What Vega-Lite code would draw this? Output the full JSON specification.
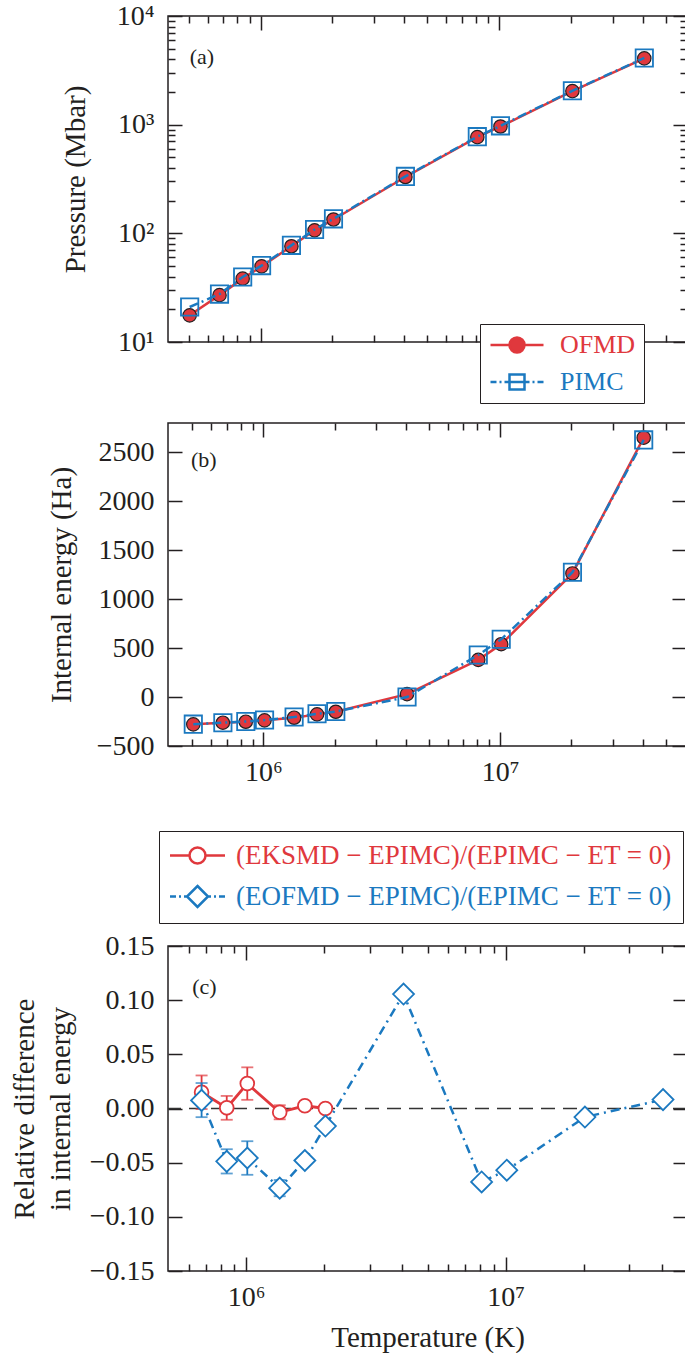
{
  "$schema": "https://vega.github.io/schema/vega-lite/v6.json",
  "background": "white",
  "padding": {"left": 9, "top": 1, "right": 0, "bottom": 0},
  "datasets": {
    "ab": [
      {"T": 505213, "method": "OFMD", "P": 17.6, "E": -279},
      {"T": 505213, "method": "PIMC", "P": 21.0, "E": -277},
      {"T": 673617, "method": "OFMD", "P": 27.0, "E": -262},
      {"T": 673617, "method": "PIMC", "P": 27.6, "E": -262.3},
      {"T": 842022, "method": "OFMD", "P": 38.3, "E": -252},
      {"T": 842022, "method": "PIMC", "P": 39.6, "E": -249.6},
      {"T": 1010426, "method": "OFMD", "P": 49.7, "E": -238},
      {"T": 1010426, "method": "PIMC", "P": 50.5, "E": -235},
      {"T": 1347234, "method": "OFMD", "P": 76, "E": -211},
      {"T": 1347234, "method": "PIMC", "P": 77.5, "E": -204},
      {"T": 1684043, "method": "OFMD", "P": 106.6, "E": -177},
      {"T": 1684043, "method": "PIMC", "P": 108.5, "E": -171},
      {"T": 2020851, "method": "OFMD", "P": 134, "E": -150},
      {"T": 2020851, "method": "PIMC", "P": 136, "E": -147.6},
      {"T": 4041702, "method": "OFMD", "P": 330, "E": 30},
      {"T": 4041702, "method": "PIMC", "P": 334, "E": 0},
      {"T": 8083404, "method": "OFMD", "P": 768, "E": 380},
      {"T": 8083404, "method": "PIMC", "P": 776, "E": 430},
      {"T": 10104255, "method": "OFMD", "P": 962, "E": 540},
      {"T": 10104255, "method": "PIMC", "P": 975, "E": 590},
      {"T": 20208510, "method": "OFMD", "P": 2036, "E": 1263},
      {"T": 20208510, "method": "PIMC", "P": 2050, "E": 1275},
      {"T": 40417019, "method": "OFMD", "P": 4075, "E": 2650},
      {"T": 40417019, "method": "PIMC", "P": 4110, "E": 2627}
    ],
    "rel": [
      {"T": 673617, "method": "KSMD", "rel": 0.0150, "lo": -0.0005, "hi": 0.0305},
      {"T": 842022, "method": "KSMD", "rel": 0.0006, "lo": -0.0104, "hi": 0.0116},
      {"T": 1010426, "method": "KSMD", "rel": 0.0230, "lo": 0.0080, "hi": 0.0380},
      {"T": 1347234, "method": "KSMD", "rel": -0.0035, "lo": -0.0100, "hi": 0.0030},
      {"T": 1684043, "method": "KSMD", "rel": 0.0025, "lo": -0.0005, "hi": 0.0055},
      {"T": 2020851, "method": "KSMD", "rel": 0.0000, "lo": -0.0030, "hi": 0.0030},
      {"T": 673617, "method": "OFMD", "rel": 0.0075, "lo": -0.0080, "hi": 0.0235},
      {"T": 842022, "method": "OFMD", "rel": -0.0488, "lo": -0.0600, "hi": -0.0376},
      {"T": 1010426, "method": "OFMD", "rel": -0.0457, "lo": -0.0612, "hi": -0.0302},
      {"T": 1347234, "method": "OFMD", "rel": -0.0735, "lo": -0.0810, "hi": -0.0660},
      {"T": 1684043, "method": "OFMD", "rel": -0.0480, "lo": -0.0515, "hi": -0.0445},
      {"T": 2020851, "method": "OFMD", "rel": -0.0162, "lo": -0.0190, "hi": -0.0134},
      {"T": 4041702, "method": "OFMD", "rel": 0.1056, "lo": 0.1036, "hi": 0.1076},
      {"T": 8083404, "method": "OFMD", "rel": -0.0678, "lo": -0.0698, "hi": -0.0658},
      {"T": 10104255, "method": "OFMD", "rel": -0.0569, "lo": -0.0589, "hi": -0.0549},
      {"T": 20208510, "method": "OFMD", "rel": -0.0079, "lo": -0.0099, "hi": -0.0059},
      {"T": 40417019, "method": "OFMD", "rel": 0.0082, "lo": 0.0062, "hi": 0.0102}
    ]
  },
  "spacing": 42,
  "resolve": {"scale": {"shape": "independent", "fill": "independent", "stroke": "independent"}},
  "vconcat": [
    {
      "spacing": 81,
      "bounds": "flush",
      "vconcat": [
        {
          "width": 519,
          "height": 326,
          "data": {"name": "ab"},
          "resolve": {"axis": {"x": "independent", "y": "independent"}},
          "layer": [
            {
              "transform": [{"filter": "datum.method == 'OFMD'"}],
              "mark": {"type": "line", "color": "#e0383d", "strokeWidth": 2.5},
              "encoding": {
                "x": {"field": "T", "type": "quantitative", "scale": {"type": "log", "domain": [410000, 61000000], "nice": false},
                  "axis": {"orient": "bottom", "values": [1000000, 10000000], "tickSize": -14, "labels": false, "title": null}},
                "y": {"field": "P", "type": "quantitative", "scale": {"type": "log", "domain": [10, 10000], "nice": false},
                  "axis": {"orient": "left", "values": [10, 100, 1000, 10000], "tickSize": -14, "labelPadding": 28,
                    "labelExpr": "'10' + ['⁰','¹','²','³','⁴','⁵','⁶','⁷','⁸'][round(log(datum.value)/LN10)]",
                    "title": "Pressure (Mbar)", "titlePadding": 26}}
              }
            },
            {
              "transform": [{"filter": "datum.method == 'OFMD'"}],
              "mark": {"type": "point", "shape": "circle", "filled": true, "fill": "#e0383d", "stroke": "#231f20", "strokeWidth": 1.2, "size": 180, "opacity": 1},
              "encoding": {
                "x": {"field": "T", "type": "quantitative",
                  "axis": {"orient": "bottom", "values": [500000, 600000, 700000, 800000, 900000, 2000000, 3000000, 4000000, 5000000, 6000000, 7000000, 8000000, 9000000, 20000000, 30000000, 40000000, 50000000], "tickSize": -7, "labels": false, "title": null}},
                "y": {"field": "P", "type": "quantitative",
                  "axis": {"orient": "left", "values": [20, 30, 40, 50, 60, 70, 80, 90, 200, 300, 400, 500, 600, 700, 800, 900, 2000, 3000, 4000, 5000, 6000, 7000, 8000, 9000], "tickSize": -7, "labels": false, "title": null}}
              }
            },
            {
              "transform": [{"filter": "datum.method == 'PIMC'"}],
              "mark": {"type": "line", "color": "#1b79c0", "strokeWidth": 2.5, "strokeDash": [9, 4, 2, 4]},
              "encoding": {
                "x": {"field": "T", "type": "quantitative",
                  "axis": {"orient": "top", "values": [1000000, 10000000], "tickSize": -14, "labels": false, "title": null}},
                "y": {"field": "P", "type": "quantitative",
                  "axis": {"orient": "right", "values": [10, 100, 1000, 10000], "tickSize": -14, "labels": false, "title": null}}
              }
            },
            {
              "transform": [{"filter": "datum.method == 'PIMC'"}],
              "mark": {"type": "point", "shape": "square", "filled": false, "color": "#1b79c0", "strokeWidth": 1.8, "size": 300, "opacity": 1},
              "encoding": {
                "x": {"field": "T", "type": "quantitative",
                  "axis": {"orient": "top", "values": [500000, 600000, 700000, 800000, 900000, 2000000, 3000000, 4000000, 5000000, 6000000, 7000000, 8000000, 9000000, 20000000, 30000000, 40000000, 50000000], "tickSize": -7, "labels": false, "title": null}},
                "y": {"field": "P", "type": "quantitative",
                  "axis": {"orient": "right", "values": [20, 30, 40, 50, 60, 70, 80, 90, 200, 300, 400, 500, 600, 700, 800, 900, 2000, 3000, 4000, 5000, 6000, 7000, 8000, 9000], "tickSize": -7, "labels": false, "title": null}}
              }
            },
            {
              "data": {"values": []},
              "mark": {"type": "point", "filled": true, "opacity": 1},
              "encoding": {
                "x": {"field": "T", "type": "quantitative", "axis": null},
                "y": {"field": "P", "type": "quantitative", "axis": null},
                "shape": {"field": "series", "type": "nominal",
                  "scale": {"domain": ["OFMD", "PIMC"], "range": ["M-2.65,0H-0.75M0.75,0H2.65M0.75,0A0.75,0.75,0,1,1,-0.75,0A0.75,0.75,0,1,1,0.75,0", "M-2.65,0H-2.05M-1.75,0H-1.55M-1.25,0H-0.75M-0.75,-0.75H0.75V0.75H-0.75ZM-0.75,0H0.75M0.75,0H1.25M1.55,0H1.75M2.05,0H2.65"]},
                  "legend": {"title": null, "orient": "none", "legendX": 312, "legendY": 308, "strokeColor": "#231f20", "fillColor": "white", "padding": 8,
                    "symbolSize": 400, "symbolStrokeWidth": 2.5, "symbolOffset": 16, "labelOffset": 30, "rowPadding": 11,
                    "labelFont": "Liberation Serif", "labelFontSize": 26,
                    "labelColor": {"expr": "datum.value == 'OFMD' ? '#e0383d' : '#1b79c0'"}}},
                "fill": {"field": "series", "type": "nominal", "scale": {"domain": ["OFMD", "PIMC"], "range": ["#e0383d", "transparent"]}},
                "stroke": {"field": "series", "type": "nominal", "scale": {"domain": ["OFMD", "PIMC"], "range": ["#e0383d", "#1b79c0"]}}
              }
            },
            {
              "data": {"values": [{"label": "(a)"}]},
              "mark": {"type": "text", "align": "left", "baseline": "middle", "font": "Liberation Serif", "fontSize": 22, "color": "#231f20"},
              "encoding": {
                "x": {"datum": 505213, "type": "quantitative", "axis": null},
                "y": {"datum": 4184, "type": "quantitative", "axis": null},
                "text": {"field": "label"}
              }
            }
          ]
        },
        {
          "width": 518,
          "height": 323,
          "data": {"name": "ab"},
          "resolve": {"axis": {"x": "independent", "y": "independent"}},
          "layer": [
            {
              "transform": [{"filter": "datum.method == 'OFMD'"}],
              "mark": {"type": "line", "color": "#e0383d", "strokeWidth": 2.5},
              "encoding": {
                "x": {"field": "T", "type": "quantitative", "scale": {"type": "log", "domain": [395000, 61000000], "nice": false},
                  "axis": {"orient": "bottom", "values": [1000000, 10000000], "tickSize": -14, "labelPadding": 26,
                    "labelExpr": "'10' + ['⁰','¹','²','³','⁴','⁵','⁶','⁷','⁸'][round(log(datum.value)/LN10)]", "title": null}},
                "y": {"field": "E", "type": "quantitative", "scale": {"domain": [-500, 2800], "nice": false, "zero": false},
                  "axis": {"orient": "left", "values": [-500, 0, 500, 1000, 1500, 2000, 2500], "format": "d", "tickSize": -14, "labelPadding": 28,
                    "title": "Internal energy (Ha)", "titlePadding": 20}}
              }
            },
            {
              "transform": [{"filter": "datum.method == 'OFMD'"}],
              "mark": {"type": "point", "shape": "circle", "filled": true, "fill": "#e0383d", "stroke": "#231f20", "strokeWidth": 1.2, "size": 180, "opacity": 1},
              "encoding": {
                "x": {"field": "T", "type": "quantitative",
                  "axis": {"orient": "bottom", "values": [500000, 600000, 700000, 800000, 900000, 2000000, 3000000, 4000000, 5000000, 6000000, 7000000, 8000000, 9000000, 20000000, 30000000, 40000000, 50000000], "tickSize": -7, "labels": false, "title": null}},
                "y": {"field": "E", "type": "quantitative", "axis": null}
              }
            },
            {
              "transform": [{"filter": "datum.method == 'PIMC'"}],
              "mark": {"type": "line", "color": "#1b79c0", "strokeWidth": 2.5, "strokeDash": [9, 4, 2, 4]},
              "encoding": {
                "x": {"field": "T", "type": "quantitative",
                  "axis": {"orient": "top", "values": [1000000, 10000000], "tickSize": -14, "labels": false, "title": null}},
                "y": {"field": "E", "type": "quantitative",
                  "axis": {"orient": "right", "values": [-500, 0, 500, 1000, 1500, 2000, 2500], "tickSize": -14, "labels": false, "title": null}}
              }
            },
            {
              "transform": [{"filter": "datum.method == 'PIMC'"}],
              "mark": {"type": "point", "shape": "square", "filled": false, "color": "#1b79c0", "strokeWidth": 1.8, "size": 300, "opacity": 1},
              "encoding": {
                "x": {"field": "T", "type": "quantitative",
                  "axis": {"orient": "top", "values": [500000, 600000, 700000, 800000, 900000, 2000000, 3000000, 4000000, 5000000, 6000000, 7000000, 8000000, 9000000, 20000000, 30000000, 40000000, 50000000], "tickSize": -7, "labels": false, "title": null}},
                "y": {"field": "E", "type": "quantitative", "axis": null}
              }
            },
            {
              "data": {"values": [{"label": "(b)"}]},
              "mark": {"type": "text", "align": "left", "baseline": "middle", "font": "Liberation Serif", "fontSize": 22, "color": "#231f20"},
              "encoding": {
                "x": {"datum": 494000, "type": "quantitative", "axis": null},
                "y": {"datum": 2420, "type": "quantitative", "axis": null},
                "text": {"field": "label"}
              }
            }
          ]
        }
      ]
    },
    {
      "width": 519,
      "height": 325,
      "data": {"name": "rel"},
      "resolve": {"axis": {"x": "independent", "y": "independent"}},
      "layer": [
        {
          "data": {"values": [{"level": 0}]},
          "mark": {"type": "rule", "color": "#333333", "strokeWidth": 1.5, "strokeDash": [14, 8]},
          "encoding": {"y": {"field": "level", "type": "quantitative", "scale": {"domain": [-0.15, 0.15], "nice": false, "zero": false}, "axis": null}}
        },
        {
          "transform": [{"filter": "datum.method == 'KSMD'"}],
          "mark": {"type": "errorbar", "ticks": {"size": 12}, "thickness": 1.8, "color": "#e0383d"},
          "encoding": {
            "x": {"field": "T", "type": "quantitative", "scale": {"type": "log", "domain": [500000, 50000000], "nice": false}, "axis": null},
            "y": {"field": "lo", "type": "quantitative", "axis": null},
            "y2": {"field": "hi"}
          }
        },
        {
          "transform": [{"filter": "datum.method == 'KSMD'"}],
          "mark": {"type": "line", "color": "#e0383d", "strokeWidth": 2.8},
          "encoding": {
            "x": {"field": "T", "type": "quantitative",
              "axis": {"orient": "bottom", "values": [1000000, 10000000], "tickSize": -14, "labelPadding": 26,
                "labelExpr": "'10' + ['⁰','¹','²','³','⁴','⁵','⁶','⁷','⁸'][round(log(datum.value)/LN10)]",
                "title": "Temperature (K)", "titlePadding": 12}},
            "y": {"field": "rel", "type": "quantitative",
              "axis": {"orient": "left", "values": [-0.15, -0.1, -0.05, 0, 0.05, 0.1, 0.15], "format": ".2f", "tickSize": -14, "labelPadding": 28,
                "title": ["Relative difference", "in internal energy"], "titlePadding": 14, "titleLineHeight": 36}}
          }
        },
        {
          "transform": [{"filter": "datum.method == 'KSMD'"}],
          "mark": {"type": "point", "shape": "circle", "filled": false, "fill": "white", "color": "#e0383d", "strokeWidth": 1.8, "size": 190, "opacity": 1},
          "encoding": {
            "x": {"field": "T", "type": "quantitative",
              "axis": {"orient": "bottom", "values": [600000, 700000, 800000, 900000, 2000000, 3000000, 4000000, 5000000, 6000000, 7000000, 8000000, 9000000, 20000000, 30000000, 40000000], "tickSize": -7, "labels": false, "title": null}},
            "y": {"field": "rel", "type": "quantitative",
              "axis": {"orient": "right", "values": [-0.15, -0.1, -0.05, 0, 0.05, 0.1, 0.15], "tickSize": -14, "labels": false, "title": null}}
          }
        },
        {
          "transform": [{"filter": "datum.method == 'OFMD'"}],
          "mark": {"type": "errorbar", "ticks": {"size": 12}, "thickness": 1.8, "color": "#1b79c0"},
          "encoding": {
            "x": {"field": "T", "type": "quantitative", "axis": null},
            "y": {"field": "lo", "type": "quantitative", "axis": null},
            "y2": {"field": "hi"}
          }
        },
        {
          "transform": [{"filter": "datum.method == 'OFMD'"}],
          "mark": {"type": "line", "color": "#1b79c0", "strokeWidth": 2.5, "strokeDash": [9, 5, 2, 5]},
          "encoding": {
            "x": {"field": "T", "type": "quantitative",
              "axis": {"orient": "top", "values": [1000000, 10000000], "tickSize": -14, "labels": false, "title": null}},
            "y": {"field": "rel", "type": "quantitative", "axis": null}
          }
        },
        {
          "transform": [{"filter": "datum.method == 'OFMD'"}],
          "mark": {"type": "point", "shape": "diamond", "filled": false, "fill": "white", "color": "#1b79c0", "strokeWidth": 1.8, "size": 440, "opacity": 1},
          "encoding": {
            "x": {"field": "T", "type": "quantitative",
              "axis": {"orient": "top", "values": [600000, 700000, 800000, 900000, 2000000, 3000000, 4000000, 5000000, 6000000, 7000000, 8000000, 9000000, 20000000, 30000000, 40000000], "tickSize": -7, "labels": false, "title": null}},
            "y": {"field": "rel", "type": "quantitative", "axis": null}
          }
        },
        {
          "data": {"values": []},
          "mark": {"type": "point", "filled": true, "opacity": 1},
          "encoding": {
            "x": {"field": "T", "type": "quantitative", "axis": null},
            "y": {"field": "rel", "type": "quantitative", "axis": null},
            "shape": {"field": "series", "type": "nominal",
              "scale": {"domain": ["KSMD", "OFMD"], "range": ["M-2.75,0H-0.8M0.8,0H2.75M0.8,0A0.8,0.8,0,1,1,-0.8,0A0.8,0.8,0,1,1,0.8,0", "M-2.75,0H-2.15M-1.85,0H-1.65M-1.35,0H-1.05M0,-1.05L1.05,0L0,1.05L-1.05,0ZM1.05,0H1.35M1.65,0H1.85M2.15,0H2.75"]},
              "legend": {"title": null, "orient": "none", "legendX": -9, "legendY": -115, "strokeColor": "#231f20", "fillColor": "white", "padding": 11,
                "symbolSize": 400, "symbolStrokeWidth": 2.5, "symbolOffset": 14, "labelOffset": 25, "rowPadding": 12, "labelLimit": 600,
                "labelFont": "Liberation Serif", "labelFontSize": 27,
                "labelExpr": "datum.value == 'KSMD' ? '(EKSMD − EPIMC)/(EPIMC − ET = 0)' : '(EOFMD − EPIMC)/(EPIMC − ET = 0)'",
                "labelColor": {"expr": "datum.value == 'KSMD' ? '#e0383d' : '#1b79c0'"}}},
            "fill": {"field": "series", "type": "nominal", "scale": {"domain": ["KSMD", "OFMD"], "range": ["white", "white"]}},
            "stroke": {"field": "series", "type": "nominal", "scale": {"domain": ["KSMD", "OFMD"], "range": ["#e0383d", "#1b79c0"]}}
          }
        },
        {
          "data": {"values": [{"label": "(c)"}]},
          "mark": {"type": "text", "align": "left", "baseline": "middle", "font": "Liberation Serif", "fontSize": 22, "color": "#231f20"},
          "encoding": {
            "x": {"datum": 620000, "type": "quantitative", "axis": null},
            "y": {"datum": 0.112, "type": "quantitative", "axis": null},
            "text": {"field": "label"}
          }
        }
      ]
    }
  ],
  "config": {
    "font": "Liberation Serif",
    "view": {"stroke": "#231f20", "strokeWidth": 1.5},
    "axis": {"grid": false, "domain": false, "tickColor": "#231f20", "tickWidth": 1.5,
      "labelFont": "Liberation Serif", "labelFontSize": 28, "labelColor": "#231f20",
      "titleFont": "Liberation Serif", "titleFontSize": 29, "titleFontWeight": "normal", "titleColor": "#231f20"},
    "legend": {"labelFont": "Liberation Serif"}
  }
}
